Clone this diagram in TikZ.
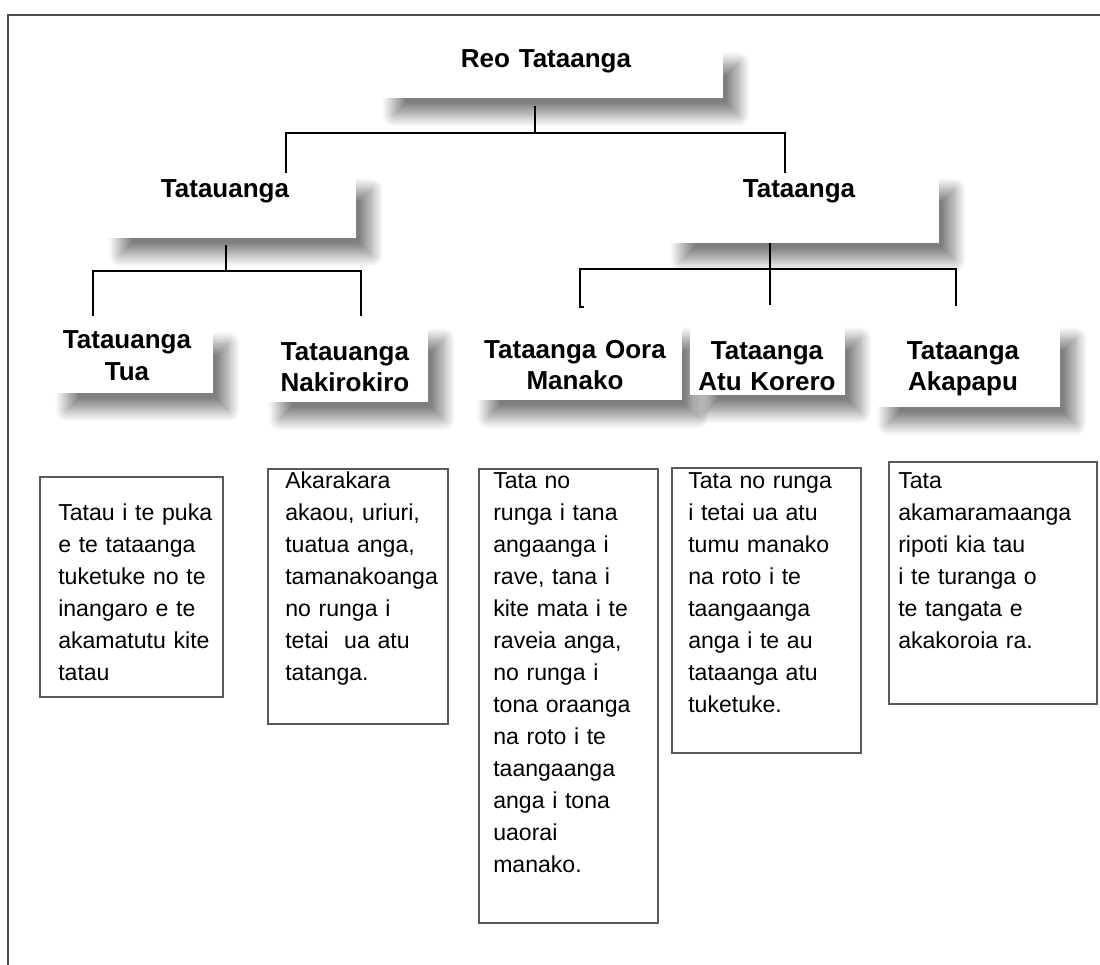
\documentclass[tikz,border=0pt]{standalone}
\usepackage{fontspec}
\setmainfont{Liberation Sans}
\usetikzlibrary{fit,shadows.blur}

\begin{document}
\begin{tikzpicture}[x=0.025cm,y=-0.025cm,
  headbox/.style={fill=white,inner sep=0pt,blur shadow={shadow xshift=0.38cm,shadow yshift=-0.42cm,shadow blur radius=0.3cm,shadow blur steps=20,shadow opacity=50}},
  head/.style={font=\fontsize{18.5pt}{22.7pt}\selectfont\bfseries,text width=6cm,align=center,inner sep=0pt,anchor=base},
  bodybox/.style={draw=black!65,line width=0.8pt,inner sep=0pt},
  body/.style={font=\fontsize{16.4pt}{22.8pt}\selectfont,text width=6cm,align=left,inner sep=0pt,anchor=base west},
  link/.style={line width=0.8pt}]
\useasboundingbox (0,0) rectangle (1100,965);
% frame
\draw[black!70,line width=1.2pt] (1100,15) -- (8,15) -- (8,965);

% top levels
\node[headbox,fit={(379,47) (723,98)}] (root) {};
\node[head] (rootT) at (546,68) {Reo Tataanga};
\node[headbox,fit={(105,173) (356,238)}] (tatauanga) {};
\node[head] (tatauangaT) at (225,198) {Tatauanga};
\node[headbox,fit={(667,173) (939,243)}] (tataanga) {};
\node[head] (tataangaT) at (799,198) {Tataanga};

% third level
\node[headbox,fit={(52,327) (213,393)}] (tua) {};
\node[head] (tuaT) at (127,349) {Tatauanga\\Tua};
\node[headbox,fit={(265,323) (428,402)}] (naki) {};
\node[head] (nakiT) at (345,360) {Tatauanga\\Nakirokiro};
\node[headbox,fit={(473,322) (682,400)}] (oora) {};
\node[head] (ooraT) at (575,358) {Tataanga Oora\\Manako};
\node[headbox,fit={(690,322) (845,395)}] (atu) {};
\node[head] (atuT) at (767,359) {Tataanga\\Atu Korero};
\node[headbox,fit={(873,322) (1060,407)}] (papu) {};
\node[head] (papuT) at (963,359) {Tataanga\\Akapapu};

% connectors
\coordinate (rs) at (535,106);
\coordinate (rl) at (286,133);
\coordinate (rr) at (785,133);
\draw[link] (rs) -- (rs |- rl);
\draw[link] (tatauanga.north -| rl) -- (rl) -- (rr) -- (tataanga.north -| rr);

\coordinate (ls) at (226,245);
\coordinate (ll) at (93,271);
\coordinate (lr) at (361,271);
\coordinate (la) at (93,316);
\coordinate (lb) at (361,316);
\draw[link] (ls) -- (ls |- ll);
\draw[link] (la) -- (ll) -- (lr) -- (lb);

\coordinate (ts) at (770,243);
\coordinate (tl) at (580,269);
\coordinate (tr) at (956,269);
\coordinate (ta) at (580,307);
\coordinate (tb) at (956,306);
\draw[link] (ts) -- ++(0,62);
\draw[link] ([xshift=0.1cm]ta) -- (ta) -- (tl) -- (tr) -- (tb);

% descriptions
\node[bodybox,fit={(40,477) (223,697)}] (b1) {};
\node[body] (b1T) at (58,520) {Tatau i te puka\\e te tataanga\\tuketuke no te\\inangaro e te\\akamatutu kite\\tatau};
\node[bodybox,fit={(268,469) (448,724)}] (b2) {};
\node[body] (b2T) at (285,488) {Akarakara\\akaou, uriuri,\\tuatua anga,\\tamanakoanga\\no runga i\\tetai \ ua atu\\tatanga.};
\node[bodybox,fit={(479,469) (658,923)}] (b3) {};
\node[body] (b3T) at (493,488) {Tata no\\runga i tana\\angaanga i\\rave, tana i\\kite mata i te\\raveia anga,\\no runga i\\tona oraanga\\na roto i te\\taangaanga\\anga i tona\\uaorai\\manako.};
\node[bodybox,fit={(672,468) (861,753)}] (b4) {};
\node[body] (b4T) at (688,488) {Tata no runga\\i tetai ua atu\\tumu manako\\na roto i te\\taangaanga\\anga i te au\\tataanga atu\\tuketuke.};
\node[bodybox,fit={(889,462) (1097,704)}] (b5) {};
\node[body] (b5T) at (898,488) {Tata\\akamaramaanga\\ripoti kia tau\\i te turanga o\\te tangata e\\akakoroia ra.};
\end{tikzpicture}
\end{document}
